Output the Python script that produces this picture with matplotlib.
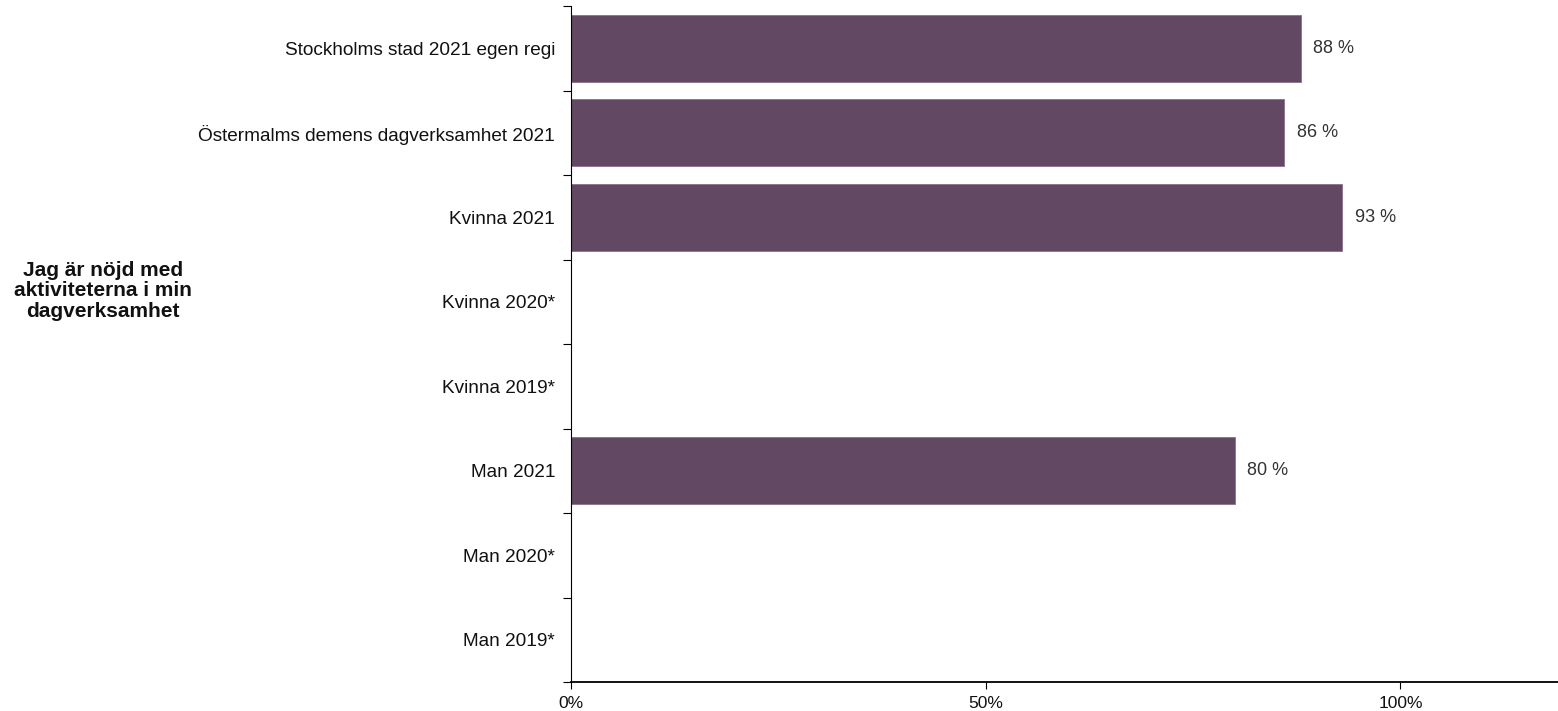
import matplotlib
matplotlib.use("Agg")
import matplotlib.pyplot as plt
import numpy as np

categories = ["Stockholms stad 2021 egen regi", "Östermalms demens dagverksamhet 2021",
              "Kvinna 2021", "Kvinna 2020*", "Kvinna 2019*", "Man 2021", "Man 2020*", "Man 2019*"]
values = [0.88, 0.86, 0.93, None, None, 0.80, None, None]
value_labels = ["88 %", "86 %", "93 %", "", "", "80 %", "", ""]
x_ticks = [0, 0.5, 1.0]
x_ticklabels = ["0%", "50%", "100%"]
group_title = "Jag är nöjd med\naktiviteterna i min\ndagverksamhet"

plt.rcParams['font.family'] = ['Liberation Sans', 'DejaVu Sans']

fig = plt.figure(figsize=(15.58, 7.11), dpi=100)
ax = fig.add_axes([571/1558, 29/711, (1558-571)/1558, (682-6)/711])

bar_color = "#634863"
n = len(categories)
ypos = np.arange(n)
for y, v, lab in zip(ypos, values, value_labels):
    if v is not None:
        ax.barh(y, v, height=0.79, color=bar_color, edgecolor="#8a7089", linewidth=0.6)
        ax.text(v + 0.015, y, lab, va="center", ha="left", fontsize=13, color="#333333")

ax.set_xlim(0, 1.19)
ax.set_ylim(n - 0.5, -0.5)

ax.set_yticks(np.arange(-0.5, n, 1.0))
ax.set_yticklabels([])
ax.set_yticks(ypos, minor=True)
ax.set_yticklabels(categories, minor=True, fontsize=13.7, color="#111111")
ax.tick_params(axis="y", which="minor", length=0, pad=11.5)
ax.tick_params(axis="y", which="major", length=6, width=0.8, direction="out")

ax.set_xticks(x_ticks)
ax.set_xticklabels(x_ticklabels, fontsize=12.5, color="#111111")
ax.tick_params(axis="x", length=5, width=0.8, direction="out", pad=5)

for s in ["top", "right"]:
    ax.spines[s].set_visible(False)
ax.spines["left"].set_linewidth(0.8)
ax.spines["bottom"].set_linewidth(1.3)

fig.text(103/1558, 1 - 291/711, group_title, ha="center", va="center",
         fontsize=15, fontweight="bold", color="#111111", linespacing=1.1)

fig.savefig("out.png", dpi=100)
